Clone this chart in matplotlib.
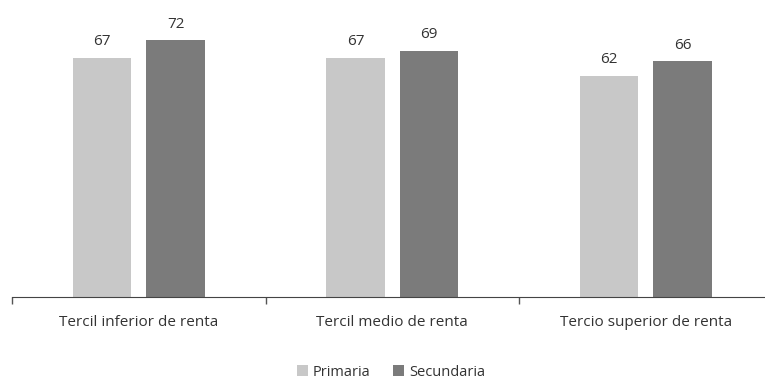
import numpy as np
import matplotlib.pyplot as plt

categorias = ['Tercil inferior de renta', 'Tercil medio de renta', 'Tercio superior de renta']
primaria = [67, 67, 62]
secundaria = [72, 69, 66]

plt.rcParams['font.family'] = ['Open Sans', 'DejaVu Sans']

fig = plt.figure(figsize=(7.65, 3.79), dpi=100)
ax = fig.add_axes([12 / 765, 82 / 379, 760.5 / 765, 285.6 / 379])

x = np.arange(len(categorias))
w = 0.23
b1 = ax.bar(x - 0.145, primaria, w, color='#c8c8c8', label='Primaria')
b2 = ax.bar(x + 0.145, secundaria, w, color='#7b7b7b', label='Secundaria')

for bars, vals in ((b1, primaria), (b2, secundaria)):
    for r, v in zip(bars, vals):
        ax.annotate(str(v), (r.get_x() + r.get_width() / 2, v), xytext=(0, 6),
                    textcoords='offset points', ha='center', va='bottom',
                    fontsize=11, color='#333333')

ax.set_xlim(-0.5, 2.5)
ax.set_ylim(0, 80)
ax.set_xticks(x)
ax.set_xticklabels(categorias, fontsize=11, color='#333333')
ax.set_xticks([-0.5, 0.5, 1.5, 2.5], minor=True)
ax.tick_params(axis='x', which='major', length=0, pad=13)
ax.tick_params(axis='x', which='minor', length=5, width=1, color='#555555')
ax.set_yticks([])
for s in ['top', 'right', 'left']:
    ax.spines[s].set_visible(False)
ax.spines['bottom'].set_color('#444444')

fig.legend(loc='center', bbox_to_anchor=(391 / 765, 7 / 379), ncol=2, frameon=False,
           fontsize=10.5, handlelength=0.75, handleheight=0.75, handletextpad=0.3,
           columnspacing=1.6, labelcolor='#333333')

fig.savefig('out.png', dpi=100)
